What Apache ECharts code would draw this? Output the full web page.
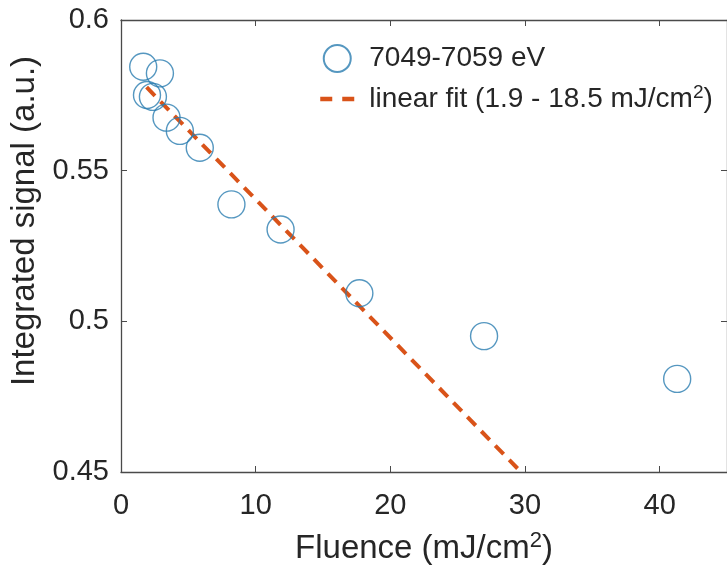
<!DOCTYPE html>
<html>
<head>
<meta charset="utf-8">
<script src="https://cdn.jsdelivr.net/npm/echarts@6/dist/echarts.min.js"></script>
<style>html,body{margin:0;padding:0;background:#fff;}#c{width:727px;height:577px;}</style>
</head>
<body>
<div id="c"></div>
<script>
// Data
const fluence = [1.65, 2.89, 1.93, 2.37, 3.38, 4.37, 5.85, 8.2, 11.85, 17.7, 26.96, 41.3];
const signal  = [0.5845, 0.5823, 0.5751, 0.5745, 0.5676, 0.5632, 0.5576, 0.5388, 0.5305, 0.5093, 0.4951, 0.4809];
const fitX = [1.9, 29.7];
const fitY = [0.5777, 0.45];
const xTicks = [0, 10, 20, 30, 40];
const yTicks = [0.45, 0.5, 0.55, 0.6];
const seriesNames = ['7049-7059 eV', 'linear fit (1.9 - 18.5 mJ/cm2)'];

const FONT = 'Liberation Sans, Arial, Helvetica, sans-serif';
const AX = '#4a4a4a';
const TXT = '#262626';

const chart = echarts.init(document.getElementById('c'), null, {renderer: 'canvas'});
const baseAxis = {
  axisLine: {show: true, onZero: false, lineStyle: {color: AX, width: 1.3}},
  axisTick: {show: true, inside: true, length: 6, lineStyle: {color: AX, width: 1}},
  splitLine: {show: false}
};
chart.setOption({
  animation: false,
  backgroundColor: '#fff',
  grid: {left: 121, top: 20, right: 0, bottom: 105, containLabel: false},
  legend: {
    orient: 'vertical',
    left: 313,
    top: 39,
    itemWidth: 34,
    itemHeight: 27,
    itemGap: 10,
    textStyle: {
      fontFamily: FONT, fontSize: 28, color: TXT, padding: [0, 0, 0, 10], lineHeight: 28,
      rich: {
        a: {fontFamily: FONT, fontSize: 28, color: TXT, lineHeight: 28},
        s: {fontFamily: FONT, fontSize: 19, color: TXT, lineHeight: 28, verticalAlign: 'bottom', padding: [0, 0, 11, 0]}
      }
    },
    formatter: function (name) {
      if (name === seriesNames[1]) return '{a|linear fit (1.9 - 18.5 mJ/cm}{s|2}{a|)}';
      return '{a|' + name + '}';
    },
    data: [
      {name: seriesNames[0], icon: 'circle'},
      {name: seriesNames[1], itemStyle: {opacity: 0}, lineStyle: {color: '#D95319', width: 4.5, type: [12, 10]}}
    ]
  },
  xAxis: [
    Object.assign({}, baseAxis, {
      type: 'value', min: 0, max: 45, interval: 10, position: 'bottom',
      name: 'Fluence (mJ/cm{s|2})', nameLocation: 'middle', nameGap: 58,
      nameTextStyle: {
        fontFamily: FONT, fontSize: 33, color: TXT,
        rich: {s: {fontFamily: FONT, fontSize: 22, color: TXT, verticalAlign: 'bottom', padding: [0, 0, 16, 0]}}
      },
      axisLabel: {
        fontFamily: FONT, fontSize: 29, color: TXT, margin: 19,
        showMaxLabel: false,
        formatter: function (v) { return xTicks.indexOf(v) >= 0 ? String(v) : ''; }
      }
    }),
    Object.assign({}, baseAxis, {
      type: 'value', min: 0, max: 45, interval: 10, position: 'top',
      axisLabel: {show: false}
    })
  ],
  yAxis: [
    Object.assign({}, baseAxis, {
      type: 'value', min: 0.45, max: 0.6, interval: 0.05, position: 'left',
      name: 'Integrated signal (a.u.)', nameLocation: 'middle', nameGap: 80,
      nameTextStyle: {fontFamily: FONT, fontSize: 33, color: TXT, padding: [0, 0, 0, 50]},
      axisLabel: {
        fontFamily: FONT, fontSize: 29, color: TXT, margin: 12,
        formatter: function (v) {
          for (const t of yTicks) { if (Math.abs(t - v) < 1e-6) return String(t); }
          return '';
        }
      }
    }),
    Object.assign({}, baseAxis, {
      type: 'value', min: 0.45, max: 0.6, interval: 0.05, position: 'right',
      axisLabel: {show: false}
    })
  ],
  series: [
    {
      name: seriesNames[0],
      type: 'scatter',
      symbol: 'circle',
      symbolSize: 27,
      itemStyle: {color: 'rgba(255,255,255,0)', borderColor: '#2a7db0', borderWidth: 1.4},
      data: fluence.map((x, i) => [x, signal[i]]),
      z: 3
    },
    {
      name: seriesNames[1],
      type: 'line',
      symbol: 'none',
      showSymbol: false,
      clip: true,
      lineStyle: {color: '#D95319', width: 4, type: [12, 8]},
      itemStyle: {color: '#D95319'},
      data: fitX.map((x, i) => [x, fitY[i]]),
      z: 2
    }
  ]
});
</script>
</body>
</html>
